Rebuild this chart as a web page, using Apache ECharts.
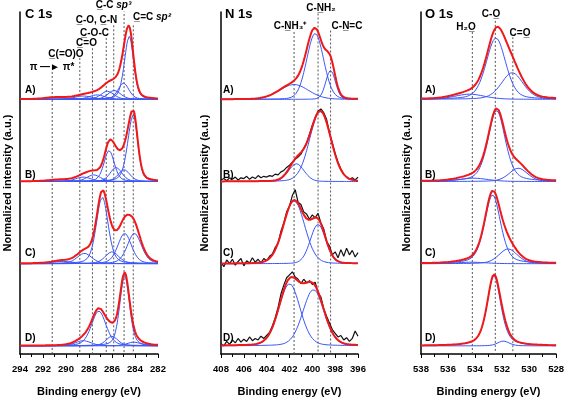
<!DOCTYPE html>
<html><head><meta charset="utf-8">
<script src="https://cdn.jsdelivr.net/npm/echarts@6/dist/echarts.min.js"></script>
<style>html,body{margin:0;padding:0;background:#fff}#c{width:567px;height:402px}</style>
</head><body><div id="c"></div>
<script>
// ================= DATA =================
const panelTitles = ['C 1s', 'N 1s', 'O 1s'];
const sampleNames = ['A)', 'B)', 'C)', 'D)'];
const c1sTicks = [282, 284, 286, 288, 290, 292, 294];
const n1sTicks = [396, 398, 400, 402, 404, 406, 408];
const o1sTicks = [528, 530, 532, 534, 536, 538];

// fitted components: [binding energy (eV), normalized height, FWHM (eV), Lorentzian fraction, high-BE tail factor]
const c1sA = [[284.5,0.85,0.9,0.3,1.1],[285.0,0.22,1.1,0.3,1],[285.8,0.12,1.3,0.3,1],[286.4,0.11,1.3,0.3,1],[287.3,0.06,1.6,0.3,1],[288.5,0.045,1.8,0.3,1],[290.8,0.025,2.5,0.3,1]];
const c1sB = [[284.15,0.9,0.9,0.3,1.25],[284.95,0.16,1.2,0.3,1],[285.65,0.19,1.2,0.3,1],[286.25,0.42,1.05,0.3,1],[287.6,0.09,1.4,0.3,1],[288.5,0.06,1.6,0.3,1],[290.5,0.02,2.5,0.3,1]];
const c1sC = [[284.05,0.41,1.45,0.3,1],[284.9,0.41,1.4,0.3,1],[286.0,0.16,1.4,0.3,1],[286.85,0.9,1.2,0.3,1],[288.4,0.14,1.5,0.3,1],[290.3,0.03,2.2,0.3,1]];
const c1sD = [[284.1,0.05,1.4,0.3,1],[284.9,0.94,1.0,0.3,1],[286.0,0.13,1.2,0.3,1],[287.15,0.47,1.5,0.3,1],[288.5,0.07,1.6,0.3,1]];

const n1sA = [[401.6,0.2,3.0,0.1,1],[399.75,0.89,1.75,0.1,1],[398.4,0.39,1.0,0.1,1]];
const n1sB = [[401.4,0.24,1.6,0.1,1],[399.3,0.95,2.2,0.1,1]];
const n1sC = [[401.6,0.85,2.2,0.1,1],[399.5,0.53,1.6,0.1,1]];
const n1sD = [[402.0,0.84,2.2,0.15,1],[399.9,0.76,2.2,0.15,1]];

const o1sA = [[534.4,0.07,2.6,0.3,1],[532.45,0.83,1.7,0.3,1],[531.25,0.36,1.9,0.3,1]];
const o1sB = [[534.1,0.045,2.5,0.3,1],[532.4,0.96,1.5,0.4,1],[530.8,0.18,1.6,0.3,1]];
const o1sC = [[534.3,0.02,2.5,0.3,1],[532.7,0.93,1.4,0.4,1],[531.55,0.2,1.6,0.3,1]];
const o1sD = [[532.6,0.95,1.2,0.5,1],[531.9,0.065,1.0,0.3,1]];

// measured N 1s spectra (408 -> 396 eV, every 0.25 eV)
const n1sRawStart = 408, n1sRawStep = -0.25;
const n1sRawB = [0.02,0.04,0.01,0.05,0.03,0.06,0.02,0.05,0.04,0.07,0.03,0.06,0.04,0.08,0.05,0.07,0.06,0.08,0.07,0.10,0.09,0.13,0.15,0.19,0.22,0.26,0.30,0.33,0.37,0.45,0.52,0.64,0.76,0.86,0.95,0.98,0.93,0.84,0.66,0.52,0.38,0.26,0.17,0.10,0.06,0.03,0.05,0.02,0.06];
const n1sRawC = [0.02,-0.04,0.05,0.00,0.06,-0.02,0.03,0.07,-0.03,0.04,0.01,0.08,0.02,0.06,0.01,0.07,0.04,0.10,0.13,0.22,0.27,0.44,0.55,0.70,0.78,0.92,1.00,0.83,0.80,0.70,0.67,0.60,0.66,0.62,0.68,0.55,0.47,0.30,0.24,0.12,0.16,0.08,0.19,0.10,0.21,0.12,0.18,0.09,0.15];
const n1sRawD = [0.03,0.00,0.06,0.02,0.08,0.04,0.10,0.05,0.09,0.06,0.12,0.07,0.10,0.08,0.13,0.10,0.14,0.18,0.27,0.38,0.52,0.70,0.82,0.92,0.96,1.00,0.93,0.90,0.84,0.90,0.85,0.88,0.83,0.86,0.72,0.66,0.50,0.40,0.31,0.22,0.17,0.12,0.14,0.08,0.11,0.06,0.10,0.20,0.13];

// reference binding energies (dotted lines) and their labels
const c1sRefEnergies = [291.2, 288.8, 287.7, 286.5, 285.85, 284.95, 284.15];
const c1sRefLabels = ['π —► π*', 'C\u0332(=O)O', 'C\u0332=O', 'C\u0332-O-C', 'C\u0332-O, C\u0332-N', '{b|C\u0332-C }{i|sp³}', '{b|C\u0332=C }{i|sp²}'];
const n1sRefEnergies = [401.6, 399.5, 398.4];
const n1sRefLabels = ['C-N\u0332H₃⁺', 'C-N\u0332H₂', 'C-N\u0332=C'];
const o1sRefEnergies = [534.2, 532.5, 531.2];
const o1sRefLabels = ['H₂O\u0332', 'C-O\u0332', 'C=O\u0332'];

// ================= LAYOUT / STYLE =================
const FONT = "'Liberation Sans', Arial, Helvetica, sans-serif";
const BLUE = '#3a56f8', RED = '#f01818', BLACK = '#111';
const Y_MAX = 4.62;
const OFFSETS = [3.44, 2.33, 1.22, 0.11];
const grids = [
  {left: 20, top: 12, width: 138, height: 346},
  {left: 221, top: 12, width: 137, height: 346},
  {left: 421, top: 12, width: 137, height: 346}
];
const yNameGaps = [7, 11, 9];
const refTops = [[3.81, 4.0, 4.13, 4.27, 4.44, 4.7, 4.44], [4.35, 4.6, 4.37], [4.35, 4.5, 4.28]];
// label anchors in pixels [x, y, align]
const refLabelPos = [
  [[52, 67, 'center'], [66, 54, 'center'], [86.5, 43, 'center'], [94.5, 33, 'center'], [96.5, 20, 'center'], [113.5, 5.5, 'center'], [133, 17, 'left']],
  [[290, 26, 'center'], [321, 8, 'center'], [347, 26, 'center']],
  [[466, 27, 'center'], [491, 14, 'center'], [520, 33, 'center']]
];
const titlePos = [[25, 14], [225, 14], [425, 14]];
const rowLabelX = [25, 223, 425];
const rowLabelY = [90, 175, 253, 338];

const panels = [
  {ticks: c1sTicks, samples: [c1sA, c1sB, c1sC, c1sD], raw: [null, null, null, null], refE: c1sRefEnergies, refL: c1sRefLabels},
  {ticks: n1sTicks, samples: [n1sA, n1sB, n1sC, n1sD], raw: [null, n1sRawB, n1sRawC, n1sRawD], refE: n1sRefEnergies, refL: n1sRefLabels},
  {ticks: o1sTicks, samples: [o1sA, o1sB, o1sC, o1sD], raw: [null, null, null, null], refE: o1sRefEnergies, refL: o1sRefLabels}
];

// pseudo-Voigt line shape of a fitted component
function pv(x, p) {
  const [c, h, f, eta, tail] = p;
  const w = x > c ? f * tail : f;
  const t = 4 * (x - c) * (x - c) / (w * w);
  return h * ((1 - eta) * Math.pow(2, -t) + eta / (1 + t));
}

const xAxis = [], yAxis = [], series = [], graphic = [];
panels.forEach((P, pi) => {
  const xmin = P.ticks[0], xmax = P.ticks[P.ticks.length - 1];
  xAxis.push({
    gridIndex: pi, type: 'value', inverse: true, min: xmin, max: xmax, interval: P.ticks[1] - P.ticks[0],
    name: 'Binding energy (eV)', nameLocation: 'middle', nameGap: 32,
    nameTextStyle: {fontFamily: FONT, fontWeight: 'bold', fontSize: 11, color: '#000'},
    axisLine: {show: true, onZero: false, lineStyle: {color: '#000', width: 1.5}},
    axisTick: {show: true, inside: false, length: 4, lineStyle: {color: '#000', width: 1}},
    minorTick: {show: true, splitNumber: 2, length: 3, lineStyle: {color: '#000', width: 1}},
    axisLabel: {fontFamily: FONT, fontWeight: 'bold', fontSize: 9.5, color: '#000', margin: 10, showMinLabel: true, showMaxLabel: true},
    splitLine: {show: false}, minorSplitLine: {show: false}
  });
  yAxis.push({
    gridIndex: pi, type: 'value', min: 0, max: Y_MAX, position: 'left',
    name: 'Normalized intensity (a.u.)', nameLocation: 'middle', nameGap: yNameGaps[pi], nameRotate: 90,
    nameTextStyle: {fontFamily: FONT, fontWeight: 'bold', fontSize: 11, color: '#000'},
    axisLine: {show: true, lineStyle: {color: '#000', width: 1.5}},
    axisTick: {show: false}, axisLabel: {show: false}, splitLine: {show: false}
  });
  const xs = [];
  for (let k = 0; ; k++) { const x = xmin + k * 0.05; if (x > xmax + 1e-9) break; xs.push(+x.toFixed(3)); }

  // dotted reference lines
  P.refE.forEach((e, li) => {
    series.push({type: 'line', xAxisIndex: pi, yAxisIndex: pi, symbol: 'none', silent: true, z: 1,
      lineStyle: {color: '#555', width: 1, type: [2, 2]}, data: [[e, refTops[pi][li]], [e, 0]]});
  });

  P.samples.forEach((comps, si) => {
    const off = OFFSETS[si];
    comps.forEach(p => {
      series.push({type: 'line', xAxisIndex: pi, yAxisIndex: pi, symbol: 'none', silent: true, z: 2,
        lineStyle: {color: BLUE, width: 1}, data: xs.map(x => [x, off + pv(x, p)])});
    });
    const raw = P.raw[si];
    if (raw) {
      series.push({type: 'line', xAxisIndex: pi, yAxisIndex: pi, symbol: 'none', silent: true, z: 3,
        lineStyle: {color: BLACK, width: 1.2}, data: raw.map((v, k) => [n1sRawStart + k * n1sRawStep, off + v])});
    }
    series.push({type: 'line', xAxisIndex: pi, yAxisIndex: pi, symbol: 'none', silent: true, z: 4,
      lineStyle: {color: RED, width: 2}, data: xs.map(x => [x, off + comps.reduce((s, p) => s + pv(x, p), 0)])});
  });

  // texts
  graphic.push({type: 'text', x: titlePos[pi][0], y: titlePos[pi][1], z: 10,
    style: {text: panelTitles[pi], font: 'bold 13px ' + FONT, fill: '#000', textAlign: 'left', textVerticalAlign: 'middle'}});
  sampleNames.forEach((s, si) => {
    graphic.push({type: 'text', x: rowLabelX[pi], y: rowLabelY[si], z: 10,
      style: {text: s, font: 'bold 10px ' + FONT, fill: '#000', textAlign: 'left', textVerticalAlign: 'middle'}});
  });
  P.refL.forEach((t, li) => {
    const [lx, ly, al] = refLabelPos[pi][li];
    graphic.push({type: 'text', x: lx, y: ly, z: 10,
      style: {text: t, font: 'bold 10px ' + FONT, fill: '#000', textAlign: al, textVerticalAlign: 'middle',
        rich: {b: {font: 'bold 10px ' + FONT, fill: '#000'}, i: {font: 'italic bold 10px ' + FONT, fill: '#000'}}}});
  });
});

const chart = echarts.init(document.getElementById('c'), null, {renderer: 'canvas'});
chart.setOption({
  animation: false,
  backgroundColor: '#fff',
  grid: grids,
  xAxis, yAxis, series, graphic
});
</script></body></html>
